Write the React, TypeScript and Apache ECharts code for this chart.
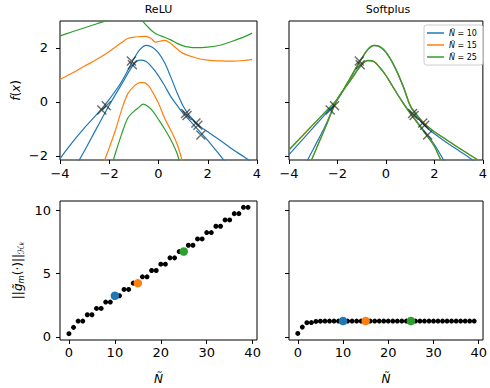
import React, { useEffect, useRef } from "react";
import * as echarts from "echarts";

const FONT = "DejaVu Sans";
const BLUE = "#1f77b4";
const ORANGE = "#ff7f0e";
const GREEN = "#2ca02c";

// ---------- top row: f(x) curves ----------
const reluB10Hi = [[-4,-2.1],[-3.5,-1.5],[-3,-0.95],[-2.5,-0.45],[-2,0.1],[-1.5,0.75],[-1,1.6],[-0.75,1.95],[-0.5,2.1],[-0.25,2.03],[0,1.82],[0.25,1.45],[0.5,0.92],[0.75,0.35],[1,-0.15],[1.25,-0.5],[1.5,-0.75],[1.75,-0.95],[2,-1.1],[2.5,-1.42],[3,-1.75],[3.5,-2.05],[3.8,-2.25]];
const reluB10Lo = [[-3.5,-2.6],[-3,-1.8],[-2.5,-0.95],[-2,-0.12],[-1.5,0.65],[-1,1.4],[-0.75,1.55],[-0.5,1.5],[-0.25,1.27],[0,0.97],[0.25,0.6],[0.5,0.2],[0.75,-0.12],[1,-0.42],[1.25,-0.67],[1.5,-0.92],[1.75,-1.17],[2,-1.42],[2.5,-1.98],[3,-2.55]];
const reluO15Hi = [[-4,0.83],[-3.5,1.07],[-3,1.33],[-2.5,1.58],[-2,1.87],[-1.5,2.2],[-1.25,2.35],[-1,2.4],[-0.75,2.42],[-0.5,2.43],[-0.3,2.35],[-0.12,2.22],[0.05,2.25],[0.25,2.28],[0.45,2.2],[0.75,1.97],[1,1.8],[1.5,1.64],[2,1.55],[2.5,1.52],[3,1.51],[3.5,1.54],[3.8,1.58]];
const reluO15Lo = [[-2.4,-2.9],[-2.2,-2.2],[-2,-1.7],[-1.75,-1.05],[-1.5,-0.3],[-1.25,0.3],[-1,0.58],[-0.75,0.72],[-0.6,0.72],[-0.4,0.6],[-0.2,0.3],[0,-0.05],[0.25,-0.6],[0.5,-1.05],[0.75,-1.55],[1,-2.3],[1.2,-3.0]];
const reluG25Hi = [[-4,2.45],[-3.5,2.6],[-3,2.75],[-2.5,2.9],[-2,3.05],[-1.5,3.25],[-1,3.3],[-0.75,3.1],[-0.5,2.85],[-0.25,2.62],[0,2.48],[0.25,2.4],[0.5,2.3],[0.75,2.17],[1,2.08],[1.25,2.03],[1.5,2.01],[2,2.03],[2.5,2.1],[3,2.25],[3.5,2.42],[3.8,2.55]];
const reluG25Lo = [[-2,-2.7],[-1.75,-1.9],[-1.5,-1.2],[-1.25,-0.6],[-1,-0.35],[-0.8,-0.2],[-0.62,-0.08],[-0.45,-0.15],[-0.25,-0.32],[0,-0.65],[0.25,-1.0],[0.5,-1.4],[0.75,-1.9],[1,-2.7]];

const spB10Hi = [[-4,-1.95],[-3.5,-1.45],[-3,-0.95],[-2.5,-0.45],[-2,0.08],[-1.5,0.82],[-1.25,1.22],[-1,1.6],[-0.75,1.93],[-0.5,2.09],[-0.25,2.04],[0,1.84],[0.25,1.48],[0.5,1.02],[0.75,0.47],[1,-0.15],[1.25,-0.5],[1.5,-0.78],[1.75,-1.0],[2,-1.18],[2.5,-1.5],[3,-1.8],[3.5,-2.1],[3.8,-2.3]];
const spB10Lo = [[-3.5,-2.6],[-3,-1.75],[-2.5,-0.88],[-2,0.12],[-1.5,0.76],[-1.25,1.09],[-1,1.39],[-0.75,1.54],[-0.5,1.5],[-0.25,1.27],[0,0.98],[0.25,0.62],[0.5,0.26],[0.75,-0.08],[1,-0.4],[1.25,-0.69],[1.5,-0.98],[1.75,-1.27],[2,-1.58],[2.25,-1.95],[2.5,-2.35]];
const spO15Hi = [[-4,-1.78],[-3.5,-1.31],[-3,-0.84],[-2.5,-0.37],[-2,0.12],[-1.5,0.85],[-1.25,1.25],[-1,1.62],[-0.75,1.95],[-0.5,2.1],[-0.25,2.05],[0,1.85],[0.25,1.5],[0.5,1.05],[0.75,0.5],[1,-0.12],[1.25,-0.45],[1.5,-0.72],[1.75,-0.93],[2,-1.1],[2.5,-1.4],[3,-1.7],[3.5,-1.98],[3.8,-2.15]];
const spO15Lo = [[-3.3,-2.6],[-3,-2.0],[-2.5,-0.95],[-2,0.1],[-1.5,0.75],[-1.25,1.08],[-1,1.38],[-0.75,1.53],[-0.5,1.5],[-0.25,1.27],[0,0.98],[0.25,0.62],[0.5,0.25],[0.75,-0.1],[1,-0.42],[1.25,-0.72],[1.5,-1.02],[1.75,-1.32],[2,-1.65],[2.25,-2.12],[2.5,-2.5]];
const spG25Hi = [[-4,-1.77],[-3.5,-1.3],[-3,-0.83],[-2.5,-0.37],[-2,0.12],[-1.5,0.85],[-1.25,1.25],[-1,1.62],[-0.75,1.95],[-0.5,2.1],[-0.25,2.05],[0,1.85],[0.25,1.5],[0.5,1.05],[0.75,0.5],[1,-0.12],[1.25,-0.45],[1.5,-0.72],[1.75,-0.93],[2,-1.1],[2.5,-1.4],[3,-1.7],[3.5,-1.98],[3.8,-2.15]];
const spG25Lo = [[-3.3,-2.6],[-3,-2.0],[-2.5,-0.95],[-2,0.1],[-1.5,0.75],[-1.25,1.08],[-1,1.38],[-0.75,1.53],[-0.5,1.5],[-0.25,1.27],[0,0.98],[0.25,0.62],[0.5,0.25],[0.75,-0.1],[1,-0.42],[1.25,-0.72],[1.5,-1.02],[1.75,-1.32],[2,-1.65],[2.25,-2.12],[2.5,-2.5]];

const crossX = [-2.3, -2.12, -1.1, -1.06, 1.1, 1.16, 1.52, 1.6, 1.72];
const crossY = [-0.3, -0.14, 1.52, 1.38, -0.43, -0.5, -0.78, -0.86, -1.22];

// ---------- bottom row: norms ----------
const nTilde = [0,1,2,3,4,5,6,7,8,9,10,11,12,13,14,15,16,17,18,19,20,21,22,23,24,25,26,27,28,29,30,31,32,33,34,35,36,37,38,39];
const reluNorm = [0.25,0.75,1.25,1.25,1.75,1.75,2.25,2.25,2.75,2.75,3.25,3.25,3.75,3.75,4.25,4.25,4.75,4.75,5.25,5.25,5.75,5.75,6.25,6.25,6.75,6.75,7.25,7.25,7.75,7.75,8.25,8.25,8.75,8.75,9.25,9.25,9.75,9.75,10.25,10.25];
const softplusNorm = [0.27,0.77,1.12,1.13,1.22,1.24,1.25,1.25,1.25,1.25,1.25,1.25,1.25,1.25,1.25,1.25,1.25,1.25,1.25,1.25,1.25,1.25,1.25,1.25,1.25,1.25,1.25,1.25,1.25,1.25,1.25,1.25,1.25,1.25,1.25,1.25,1.25,1.25,1.25,1.25];
const highlightN = [10, 15, 25];
const highlightColors = [BLUE, ORANGE, GREEN];
const legendNames = ["Ñ = 10", "Ñ = 15", "Ñ = 25"];

const topXTicks = [-4, -2, 0, 2, 4];
const topYTicks = [-2, 0, 2];
const botXTicks = [0, 10, 20, 30, 40];
const botYTicks = [0, 5, 10];

const fmt = (v: number) => (v < 0 ? "\u2212" + Math.abs(v) : String(v));

function lineSeries(data: number[][], color: string, gi: number, name: string) {
  return {
    type: "line", name, data, xAxisIndex: gi, yAxisIndex: gi,
    showSymbol: false, symbol: "none", smooth: 0.35, clip: true, silent: true,
    lineStyle: { color, width: 1.2 }, itemStyle: { color }, z: 2,
  };
}

function crossSeries(gi: number) {
  return {
    type: "scatter", xAxisIndex: gi, yAxisIndex: gi, silent: true, z: 5,
    data: crossX.map((x, i) => [x, crossY[i]]),
    symbol: "path://M0,0L10,10M10,0L0,10", symbolSize: 9,
    itemStyle: { color: "none", borderColor: "rgba(30,30,30,0.65)", borderWidth: 1.4, opacity: 1 },
  };
}

function xAxisDef(gi: number, top: boolean) {
  const ticks = top ? topXTicks : botXTicks;
  return {
    type: "value", gridIndex: gi, position: "bottom",
    min: top ? -4 : -1.95, max: top ? 4 : 40.95,
    axisLine: { show: false, onZero: false },
    axisTick: { show: true, inside: false, length: 4, customValues: ticks, lineStyle: { color: "#000", width: 1 } },
    axisLabel: { show: true, inside: false, customValues: ticks, formatter: fmt, fontSize: 13, fontFamily: FONT, color: "#000", margin: top ? 7 : 6 },
    splitLine: { show: false },
    name: top ? "" : "{i|Ñ}",
    nameLocation: "middle", nameGap: 33,
    nameTextStyle: { fontSize: 12, fontFamily: FONT, color: "#000", rich: { i: { fontStyle: "italic", fontSize: 12, fontFamily: FONT } } },
  };
}

function yAxisDef(gi: number, top: boolean, labels: boolean) {
  const ticks = top ? topYTicks : botYTicks;
  return {
    type: "value", gridIndex: gi, position: "left",
    min: top ? -2.15 : -0.25, max: top ? 3 : 10.75,
    axisLine: { show: false, onZero: false },
    axisTick: { show: true, inside: false, length: 4, customValues: ticks, lineStyle: { color: "#000", width: 1 } },
    axisLabel: { show: labels, inside: false, customValues: ticks, formatter: fmt, fontSize: 13, fontFamily: FONT, color: "#000", margin: top ? 12 : 9 },
    splitLine: { show: false },
    name: labels ? (top ? "{i|f}({i|x})" : "||{i|g̃}{s|m}(·)||{s|ℋ}{t|k}") : "",
    nameLocation: "middle", nameRotate: 90, nameGap: top ? 37 : 35,
    nameTextStyle: {
      fontSize: 12, fontFamily: FONT, color: "#000", lineHeight: 15,
      rich: {
        i: { fontStyle: "italic", fontSize: 12, fontFamily: FONT, lineHeight: 15 },
        s: { fontStyle: "italic", fontSize: 8.5, fontFamily: FONT, verticalAlign: "bottom", lineHeight: 15 },
        t: { fontStyle: "italic", fontSize: 6.5, fontFamily: FONT, verticalAlign: "bottom", lineHeight: 14 },
      },
    },
  };
}

export default function App() {
  const ref = useRef<HTMLDivElement>(null);
  useEffect(() => {
    if (!ref.current) return;
    const chart = echarts.init(ref.current, undefined, { renderer: "svg" });
    const gridBase = { show: true, borderColor: "#000", borderWidth: 1, backgroundColor: "transparent", containLabel: false };
    const dot = { color: "#000", opacity: 1 };
    const series: any[] = [
      lineSeries(reluB10Hi, BLUE, 0, legendNames[0]),
      lineSeries(reluB10Lo, BLUE, 0, legendNames[0]),
      lineSeries(reluO15Hi, ORANGE, 0, legendNames[1]),
      lineSeries(reluO15Lo, ORANGE, 0, legendNames[1]),
      lineSeries(reluG25Hi, GREEN, 0, legendNames[2]),
      lineSeries(reluG25Lo, GREEN, 0, legendNames[2]),
      lineSeries(spB10Hi, BLUE, 1, legendNames[0]),
      lineSeries(spB10Lo, BLUE, 1, legendNames[0]),
      lineSeries(spO15Hi, ORANGE, 1, legendNames[1]),
      lineSeries(spO15Lo, ORANGE, 1, legendNames[1]),
      lineSeries(spG25Hi, GREEN, 1, legendNames[2]),
      lineSeries(spG25Lo, GREEN, 1, legendNames[2]),
      crossSeries(0),
      crossSeries(1),
      {
        type: "scatter", xAxisIndex: 2, yAxisIndex: 2, silent: true, z: 3,
        data: nTilde.map((n, i) => [n, reluNorm[i]]), symbolSize: 5, itemStyle: dot,
      },
      {
        type: "scatter", xAxisIndex: 3, yAxisIndex: 3, silent: true, z: 3,
        data: nTilde.map((n, i) => [n, softplusNorm[i]]), symbolSize: 5, itemStyle: dot,
      },
      ...highlightN.map((n, k) => ({
        type: "scatter", xAxisIndex: 2, yAxisIndex: 2, silent: true, z: 4,
        data: [[n, reluNorm[nTilde.indexOf(n)]]], symbolSize: 8.5, itemStyle: { color: highlightColors[k], opacity: 1 },
      })),
      ...highlightN.map((n, k) => ({
        type: "scatter", xAxisIndex: 3, yAxisIndex: 3, silent: true, z: 4,
        data: [[n, softplusNorm[nTilde.indexOf(n)]]], symbolSize: 8.5, itemStyle: { color: highlightColors[k], opacity: 1 },
      })),
    ];
    chart.setOption({
      animation: false,
      backgroundColor: "#fff",
      textStyle: { fontFamily: FONT },
      grid: [
        { ...gridBase, left: 60, top: 21, width: 197, height: 139 },
        { ...gridBase, left: 289, top: 21, width: 198, height: 139 },
        { ...gridBase, left: 60, top: 201, width: 197, height: 139 },
        { ...gridBase, left: 289, top: 201, width: 198, height: 139 },
      ],
      xAxis: [xAxisDef(0, true), xAxisDef(1, true), xAxisDef(2, false), xAxisDef(3, false)],
      yAxis: [yAxisDef(0, true, true), yAxisDef(1, true, false), yAxisDef(2, false, true), yAxisDef(3, false, false)],
      legend: {
        data: legendNames, orient: "vertical", left: 424, top: 25,
        icon: "rect", itemWidth: 17, itemHeight: 1.5, itemGap: 4,
        padding: [4, 6, 4, 3],
        backgroundColor: "rgba(255,255,255,0.8)", borderColor: "#ccc", borderWidth: 1, borderRadius: 2.5,
        selectedMode: false,
        formatter: (name: string) => "{i|Ñ}" + name.slice(1),
        textStyle: { fontSize: 8, fontFamily: FONT, color: "#000", rich: { i: { fontStyle: "italic", fontSize: 8, fontFamily: FONT } } },
      },
      graphic: [
        { type: "text", x: 158.5, y: 9, style: { text: "ReLU", fontSize: 11, fontFamily: FONT, fill: "#000", align: "center", verticalAlign: "middle" } },
        { type: "text", x: 388, y: 9, style: { text: "Softplus", fontSize: 11, fontFamily: FONT, fill: "#000", align: "center", verticalAlign: "middle" } },
      ],
      series,
    });
    return () => chart.dispose();
  }, []);
  return <div ref={ref} style={{ position: "fixed", left: 0, top: 0, width: 490, height: 388, background: "#fff" }} />;
}
